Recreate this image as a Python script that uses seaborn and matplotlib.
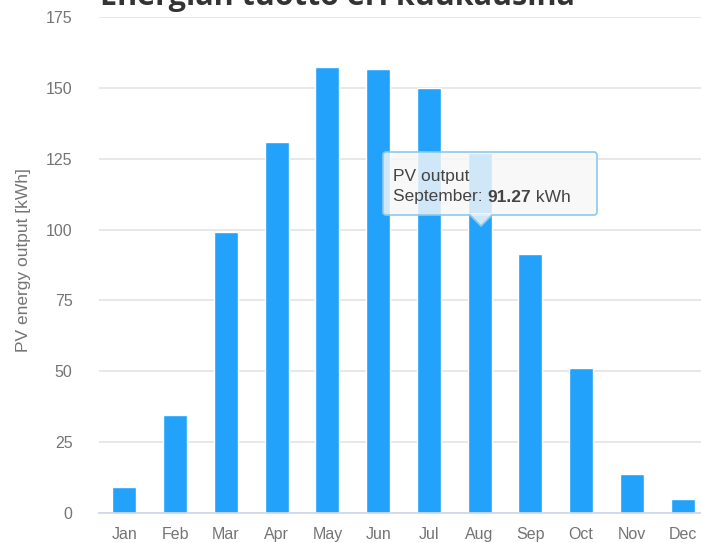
import matplotlib
matplotlib.use("Agg")
import matplotlib.pyplot as plt
import matplotlib.transforms as mtransforms
from matplotlib.patches import FancyBboxPatch, Polygon
import seaborn as sns

# data
months = ["Jan", "Feb", "Mar", "Apr", "May", "Jun", "Jul", "Aug", "Sep", "Oct", "Nov", "Dec"]
pv_output = [9.2, 34.5, 99.0, 131.0, 157.4, 156.8, 150.0, 127.0, 91.27, 51.2, 13.8, 4.9]
y_ticks = [0, 25, 50, 75, 100, 125, 150, 175]

title = "Energian tuotto eri kuukausina"
y_label = "PV energy output [kWh]"
tip_series = "PV output"
tip_parts = [("September: ", "normal"), ("91.27", "bold"), (" kWh", "normal")]

bar_color = "#22a2fb"
txt_grey = "#747474"
axis_col = "#ccd6eb"

sns.set_theme(style="white")
plt.rcParams["font.family"] = ["Liberation Sans", "DejaVu Sans"]

my_dpi = 100
fig = plt.figure(figsize=(701 / my_dpi, 543 / my_dpi), dpi=my_dpi)
ax = fig.add_axes([99 / 701, 30 / 543, 609 / 701, 496 / 543])

sns.barplot(x=months, y=pv_output, color=bar_color, saturation=1,
            width=0.47, ax=ax, zorder=2)

ax.set_xlim(-0.5, len(months) - 0.5)
ax.set_ylim(0, 175)
ax.set_yticks(y_ticks)
ax.yaxis.grid(True, color="#e6e6e6", lw=1.3, zorder=0)
ax.xaxis.grid(False)
ax.set_axisbelow(True)

for s in ["left", "top", "right"]:
    ax.spines[s].set_visible(False)
ax.spines["bottom"].set_color(axis_col)
ax.spines["bottom"].set_linewidth(1.2)

ax.set_xticks([i - 0.5 for i in range(len(months) + 1)], minor=True)
ax.tick_params(axis="x", which="minor", length=7, width=1, color=axis_col, direction="out")
ax.tick_params(axis="x", which="major", length=0, pad=10, labelsize=11.5, labelcolor=txt_grey)
ax.tick_params(axis="y", length=0, pad=19, labelsize=11.5, labelcolor=txt_grey)

ax.set_xlabel("")
ax.set_ylabel(y_label, fontsize=12.5, color=txt_grey)
ax.yaxis.set_label_coords(-0.112, 0.51)

# title, cut off at the top like in the screenshot
fig.text(100 / 701, 1 - 5 / 543, title, ha="left", va="baseline",
         fontsize=22, fontweight="bold", color="#333333", family="Open Sans")

# tooltip (pixel coordinates)
ident = mtransforms.IdentityTransform()
box = FancyBboxPatch((386, 331), 208, 57, boxstyle="round,pad=3",
                     transform=ident, fc=(0.97, 0.97, 0.97, 0.82),
                     ec="#8cc8f0", lw=1.2, zorder=10)
fig.patches.append(box)
ptr = Polygon([(470, 330), (470, 328), (481, 317), (492, 328), (492, 330)],
              closed=False, transform=ident, fc=(0.97, 0.97, 0.97, 0.82),
              ec="none", zorder=11)
fig.patches.append(ptr)
fig.lines.append(plt.Line2D([470, 481, 492], [328, 317, 328], transform=ident,
                            color="#8cc8f0", lw=1.2, zorder=12))
fig.text(393 / 701, (543 - 176) / 543, tip_series, fontsize=12.5, color="#444444",
         va="center", ha="left", zorder=13)

# second tooltip line, with the value in bold
fig.canvas.draw()
rend = fig.canvas.get_renderer()
x_px = 393
for part, weight in tip_parts:
    t = fig.text(x_px / 701, (543 - 197) / 543, part, fontsize=12.5, color="#444444",
                 fontweight=weight, va="center", ha="left", zorder=13)
    x_px += t.get_window_extent(rend).width

plt.savefig("out.png", dpi=my_dpi)
